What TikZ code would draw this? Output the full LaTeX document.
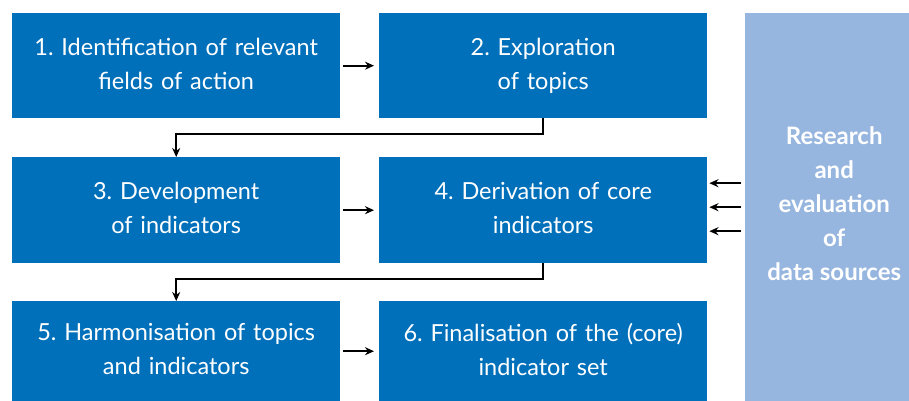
\documentclass[tikz,border=0pt]{standalone}
\usepackage{fontspec}
\setmainfont{Lato}
\usetikzlibrary{arrows.meta,calc}
\definecolor{dblue}{RGB}{0,112,186}
\definecolor{lblue}{RGB}{151,182,223}
\tikzset{
  box/.style={fill=dblue, text=white, anchor=north west, inner sep=0pt,
    minimum width=328pt, text width=326pt, align=center,
    font=\fontsize{23.5}{34}\selectfont},
  arr/.style={draw=black, line width=2pt, -{Stealth[length=9pt,width=8pt]}},
}
\begin{document}
\frenchspacing
\begin{tikzpicture}[x=1pt,y=1pt]
\useasboundingbox (0,0) rectangle (909,-401);
\node[box, minimum height=105pt] (b1) at (12,-13) {1. Identification of relevant\\fields of action\vphantom{p}};
\node[box, minimum height=105pt] (b2) at (379,-13) {2. Exploration\\of topics};
\node[box, minimum height=106pt] (b3) at (12,-157) {3. Development\\of indicators\vphantom{p}};
\node[box, minimum height=106pt] (b4) at (379,-157) {4. Derivation of core\\indicators\vphantom{p}};
\node[box, minimum height=100pt] (b5) at (12,-301) {5. Harmonisation of topics\\and indicators\vphantom{p}};
\node[box, minimum height=100pt] (b6) at (379,-301) {6. Finalisation of the (core)\\indicator set\vphantom{p}};
\node[fill=lblue, anchor=north west, inner sep=0pt,
  minimum width=164pt, minimum height=388pt] (src) at (745,-13) {};
\node[text=white, align=center, inner sep=0pt,
  font=\fontsize{24}{34}\selectfont\bfseries] (srctext) at ([xshift=7pt,yshift=4pt]src.center)
  {Research\\and\\evaluation\\of\\data sources};
\draw[arr, shorten <=3pt, shorten >=5pt] (b1.east) -- (b2.west);
\draw[arr, shorten <=3pt, shorten >=5pt] (b3.east) -- (b4.west);
\draw[arr, shorten <=3pt, shorten >=5pt] (b5.east) -- (b6.west);
\draw[arr] (b2.south) -- ++(0,-16) -| (b3.north);
\draw[arr] (b4.south) -- ++(0,-16) -| (b5.north);
\coordinate (r1) at ([yshift=24pt]src.west);
\coordinate (r2) at ([yshift=0pt]src.west);
\coordinate (r3) at ([yshift=-24pt]src.west);
\draw[arr, shorten <=4pt, shorten >=2pt] (r1) -- (r1 -| b4.east);
\draw[arr, shorten <=4pt, shorten >=2pt] (r2) -- (r2 -| b4.east);
\draw[arr, shorten <=4pt, shorten >=2pt] (r3) -- (r3 -| b4.east);
\end{tikzpicture}
\end{document}
